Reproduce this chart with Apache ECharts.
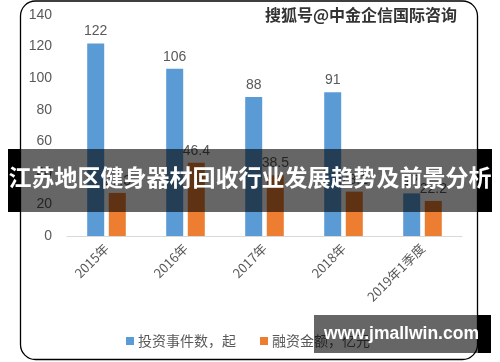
<!DOCTYPE html>
<html>
<head>
<meta charset="utf-8">
<script src="https://cdn.jsdelivr.net/npm/echarts@6/dist/echarts.min.js"></script>
<style>
html,body{margin:0;padding:0;background:#fff;}
#main{width:500px;height:362px;}
</style>
</head>
<body>
<div id="main"></div>
<script>
var categories = ['2015年', '2016年', '2017年', '2018年', '2019年1季度'];
var seriesNames = ['投资事件数，起', '融资金额，亿元'];
var investCounts = [122, 106, 88, 91, 27];
var financeAmounts = [27.3, 46.4, 38.5, 28.1, 22.2];
var yTicks = [0, 20, 40, 60, 80, 100, 120, 140];
var titleText = '江苏地区健身器材回收行业发展趋势及前景分析';
var watermarkText = '搜狐号@中金企信国际咨询';
var siteText = 'www.jmallwin.com';

var chart = echarts.init(document.getElementById('main'), null, {renderer: 'canvas'});
var txtColor = '#595959';
var numFont = '"Liberation Sans", Arial, sans-serif';
var cjkFont = '"Noto Sans CJK SC", sans-serif';

var option = {
  backgroundColor: '#ffffff',
  animation: false,
  grid: {left: 67, right: 38, top: 15, bottom: 126, containLabel: false},
  legend: {
    data: seriesNames,
    left: 121,
    top: 329,
    icon: 'rect',
    itemWidth: 8,
    itemHeight: 8,
    itemGap: 24,
    textStyle: {color: txtColor, fontSize: 14, fontFamily: cjkFont, padding: [0, 0, 0, -1]}
  },
  xAxis: {
    type: 'category',
    data: categories,
    axisLine: {lineStyle: {color: '#d9d9d9', width: 1}},
    axisTick: {show: false},
    axisLabel: {rotate: 45, color: txtColor, fontSize: 13, fontFamily: cjkFont, margin: 10, interval: 0}
  },
  yAxis: {
    type: 'value',
    min: yTicks[0],
    max: yTicks[yTicks.length - 1],
    interval: 20,
    axisLine: {show: false},
    axisTick: {show: false},
    splitLine: {show: false},
    axisLabel: {color: txtColor, fontSize: 14, fontFamily: numFont, margin: 15}
  },
  series: [
    {
      name: seriesNames[0],
      type: 'bar',
      data: investCounts,
      barWidth: 17,
      barGap: '27%',
      itemStyle: {color: '#5b9bd5'},
      label: {show: true, position: 'top', color: txtColor, fontSize: 14, fontFamily: numFont, distance: 5}
    },
    {
      name: seriesNames[1],
      type: 'bar',
      data: financeAmounts,
      barWidth: 17,
      itemStyle: {color: '#ed7d31'},
      label: {show: true, position: 'top', color: txtColor, fontSize: 14, fontFamily: numFont, distance: 5}
    }
  ],
  graphic: [
    {
      type: 'rect', z: -10, silent: true,
      shape: {x: 20.5, y: 1, width: 457, height: 358.5, r: 15},
      style: {fill: 'none', stroke: '#000', lineWidth: 1.3}
    },
    {
      type: 'rect', z: 100, silent: true,
      shape: {x: 8, y: 149, width: 13, height: 63},
      style: {fill: '#000'}
    },
    {
      type: 'rect', z: 100, silent: true,
      shape: {x: 477, y: 149, width: 15, height: 63},
      style: {fill: '#000'}
    },
    {
      type: 'rect', z: 100, silent: true,
      shape: {x: 21, y: 149, width: 456, height: 63},
      style: {fill: 'rgba(0,0,0,0.6)'}
    },
    {
      type: 'text', z: 101, silent: true,
      left: 'center', top: 166,
      style: {text: titleText, fill: '#fff', font: 'bold 23px "Noto Sans CJK SC", sans-serif'}
    },
    {
      type: 'text', z: 101, silent: true,
      left: 264, top: 6,
      style: {text: watermarkText, fill: '#333', stroke: '#fff', lineWidth: 2, font: 'bold 16px "Noto Sans CJK SC", sans-serif'}
    },
    {
      type: 'rect', z: 100, silent: true,
      shape: {x: 314, y: 315, width: 164, height: 38},
      style: {fill: 'rgba(0,0,0,0.6)'}
    },
    {
      type: 'rect', z: 100, silent: true,
      shape: {x: 478, y: 315, width: 13, height: 38},
      style: {fill: '#000'}
    },
    {
      type: 'text', z: 101, silent: true,
      left: 324, top: 325,
      style: {text: siteText, fill: '#fff', font: 'bold 17.5px "Liberation Sans", Arial, sans-serif'}
    }
  ]
};
chart.setOption(option);
</script>
</body>
</html>
